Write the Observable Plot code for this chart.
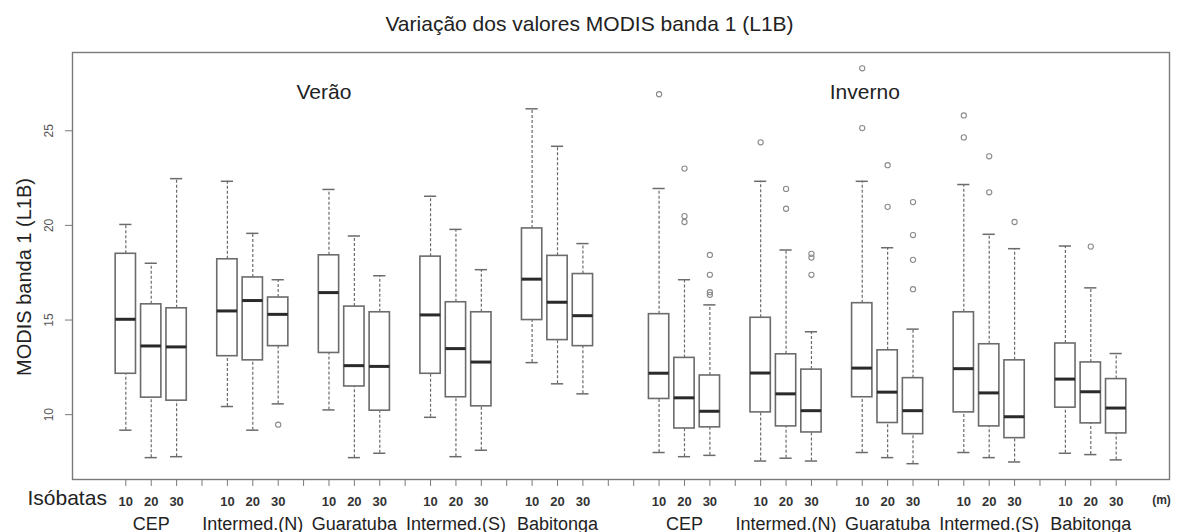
<!DOCTYPE html>
<html>
<head>
<meta charset="utf-8">
<script src="https://cdn.jsdelivr.net/npm/d3@7"></script>
<script src="https://cdn.jsdelivr.net/npm/@observablehq/plot@0.6"></script>
<style>
  html, body { margin: 0; padding: 0; background: #fff; }
  body { width: 1179px; height: 532px; overflow: hidden; font-family: "Liberation Sans", Arial, sans-serif; }
  #title { height: 40px; line-height: 48px; text-align: center; font-size: 21px; color: #222; white-space: nowrap; }
  #chart svg { display: block; }
</style>
</head>
<body>
<div id="title">Variação dos valores MODIS banda 1 (L1B)</div>
<div id="chart"></div>
<script>
// ---- data ----
const groups = ["CEP", "Intermed.(N)", "Guaratuba", "Intermed.(S)", "Babitonga"];
const seasons = ["Verão", "Inverno"];
const isobaths = [10, 20, 30];

// 30 boxes: summer (5 groups x 3 isobaths) then winter (5 groups x 3 isobaths)
const whiskerLow = [9.18, 7.73, 7.78, 10.43, 9.18, 10.57, 10.25, 7.73, 7.96, 9.86, 7.78, 8.12, 12.75, 11.63, 11.1,
                    8.0, 7.78, 7.85, 7.55, 7.7, 7.55, 8.0, 7.73, 7.41, 8.0, 7.73, 7.5, 7.96, 7.89, 7.61];
const q1 = [12.16, 10.9, 10.74, 13.09, 12.87, 13.62, 13.26, 11.49, 10.21, 12.16, 10.92, 10.44, 15.0, 13.94, 13.62,
            10.83, 9.27, 9.33, 10.12, 9.38, 9.06, 10.92, 9.56, 8.97, 10.12, 9.38, 8.76, 10.37, 9.54, 9.01];
const median = [15.04, 13.63, 13.58, 15.48, 16.03, 15.3, 16.45, 12.59, 12.55, 15.27, 13.49, 12.78, 17.16, 15.94, 15.23,
                12.19, 10.89, 10.18, 12.2, 11.1, 10.21, 12.46, 11.19, 10.21, 12.43, 11.15, 9.89, 11.88, 11.21, 10.35];
const q3 = [18.5, 15.83, 15.62, 18.21, 17.25, 16.19, 18.42, 15.71, 15.41, 18.35, 15.94, 15.41, 19.84, 18.39, 17.43,
            15.31, 13.0, 12.07, 15.12, 13.19, 12.38, 15.89, 13.4, 11.93, 15.41, 13.72, 12.87, 13.76, 12.76, 11.88];
const whiskerHigh = [20.05, 18.0, 22.47, 22.33, 19.58, 17.13, 21.9, 19.44, 17.34, 21.54, 19.79, 17.66, 26.16, 24.18, 19.04,
                     21.95, 17.13, 15.8, 22.33, 18.7, 14.38, 22.33, 18.82, 14.52, 22.16, 19.53, 18.77, 18.91, 16.7, 13.23];

// outliers: index of the box (0..29) and value
const outlierBox = [5, 15, 16, 16, 16, 17, 17, 17, 17, 18, 19, 19, 20, 20, 20, 21, 21, 22, 22, 23, 23, 23, 23, 24, 24, 25, 25, 26, 28];
const outlierValue = [9.47, 26.93, 23.0, 20.49, 20.18, 18.44, 17.39, 16.47, 16.33, 24.39, 21.93, 20.88, 18.5, 18.3, 17.39,
                      25.14, 28.3, 23.18, 20.98, 21.23, 19.49, 18.18, 16.63, 24.65, 25.81, 23.65, 21.75, 20.18, 18.88];

const yTicks = [10, 15, 20, 25];
const yTitle = "MODIS banda 1 (L1B)";
const xTitle = "Isóbatas";
const unitLabel = "(m)";
// season annotations (data coordinates inside the plot)
const seasonLabelX = [8.8, 30.1];
const seasonLabelY = [27.05, 27.05];

// ---- build table ----
const boxes = [];
seasons.forEach((s, si) => {
  groups.forEach((g, gi) => {
    isobaths.forEach((iso, ii) => {
      const k = si * 15 + gi * 3 + ii;
      const gIndex = si * 5 + gi;
      const pos = 1 + 4 * gIndex + ii + si; // R boxplot "at" positions
      boxes.push({season: s, group: g, iso, pos, lo: whiskerLow[k], q1: q1[k], med: median[k], q3: q3[k], hi: whiskerHigh[k]});
    });
  });
});
const outliers = outlierBox.map((b, i) => ({pos: boxes[b].pos, value: outlierValue[i]}));
const groupLabels = [];
for (let i = 0; i < boxes.length; i += 3) groupLabels.push({pos: boxes[i + 1].pos, label: boxes[i].group});
const maxPos = d3.max(boxes, d => d.pos);
const allTicks = d3.range(1, maxPos + 1);
const isoByPos = new Map(boxes.map(d => [d.pos, d.iso]));

// R style 4% axis extension
const ext = (a, b) => { const r = b - a; return [a - 0.04 * r, b + 0.04 * r]; };
const yMin = d3.min([...whiskerLow, ...outlierValue]);
const yMax = d3.max([...whiskerHigh, ...outlierValue]);
const xDomain = ext(0.5, maxPos + 0.5);
const yDomain = ext(yMin, yMax);

const seasonAnn = seasons.map((s, i) => ({label: s, x: seasonLabelX[i], y: seasonLabelY[i]}));

const boxStroke = "#6b6b6b";
const halfW = 0.4, capW = 0.24;

const chart = Plot.plot({
  width: 1179,
  height: 492,
  marginTop: 12,
  marginBottom: 53,
  marginLeft: 72,
  marginRight: 10,
  style: {fontFamily: "Liberation Sans, Arial, sans-serif", background: "#fff", color: "#222"},
  x: {type: "linear", domain: xDomain, axis: null},
  y: {type: "linear", domain: yDomain, axis: null},
  marks: [
    // whiskers (dashed)
    Plot.ruleX(boxes, {x: "pos", y1: "q3", y2: "hi", stroke: boxStroke, strokeWidth: 1.2, strokeDasharray: "3,2"}),
    Plot.ruleX(boxes, {x: "pos", y1: "lo", y2: "q1", stroke: boxStroke, strokeWidth: 1.2, strokeDasharray: "3,2"}),
    // staples
    Plot.ruleY(boxes, {y: "hi", x1: d => d.pos - capW, x2: d => d.pos + capW, stroke: boxStroke, strokeWidth: 1.5}),
    Plot.ruleY(boxes, {y: "lo", x1: d => d.pos - capW, x2: d => d.pos + capW, stroke: boxStroke, strokeWidth: 1.5}),
    // boxes
    Plot.rect(boxes, {x1: d => d.pos - halfW, x2: d => d.pos + halfW, y1: "q1", y2: "q3", fill: "white", stroke: boxStroke, strokeWidth: 1.6}),
    // medians
    Plot.ruleY(boxes, {y: "med", x1: d => d.pos - halfW, x2: d => d.pos + halfW, stroke: "#2a2a2a", strokeWidth: 3}),
    // outliers
    Plot.dot(outliers, {x: "pos", y: "value", r: 2.6, stroke: "#8a8a8a", strokeWidth: 1.1, fill: "none"}),
    // frame
    Plot.frame({stroke: "#7a7a7a", strokeWidth: 1.4}),
    // x axis ticks + isobath labels
    Plot.axisX({ticks: allTicks, tickSize: 7, tickPadding: 10, stroke: "#7a7a7a",
      tickFormat: d => isoByPos.has(d) ? String(isoByPos.get(d)) : "", fontSize: 13, fontWeight: "bold", fill: "#333", label: null}),
    // group labels
    Plot.text(groupLabels, {x: "pos", text: "label", frameAnchor: "bottom", dy: 50, fontSize: 18, fill: "#222"}),
    Plot.text([xTitle], {frameAnchor: "bottom-left", dx: -45, dy: 25, textAnchor: "start", fontSize: 21, fill: "#222"}),
    Plot.text([unitLabel], {frameAnchor: "bottom-right", dx: -8, dy: 24, textAnchor: "middle", fontSize: 12, fontWeight: "bold", fill: "#333"}),
    // y axis ticks + rotated labels
    Plot.axisY({ticks: yTicks, tickSize: 7, tickFormat: () => "", stroke: "#7a7a7a", label: null}),
    Plot.text(yTicks, {y: d => d, text: d => String(d), frameAnchor: "left", dx: -23, textAnchor: "middle", rotate: -90, fontSize: 12, fill: "#555"}),
    Plot.text([yTitle], {frameAnchor: "left", dx: -48, dy: 11, textAnchor: "middle", rotate: -90, fontSize: 20, fill: "#222"}),
    // season annotations
    Plot.text(seasonAnn, {x: "x", y: "y", text: "label", fontSize: 21, fill: "#222"})
  ]
});
document.getElementById("chart").appendChild(chart);
</script>
</body>
</html>
